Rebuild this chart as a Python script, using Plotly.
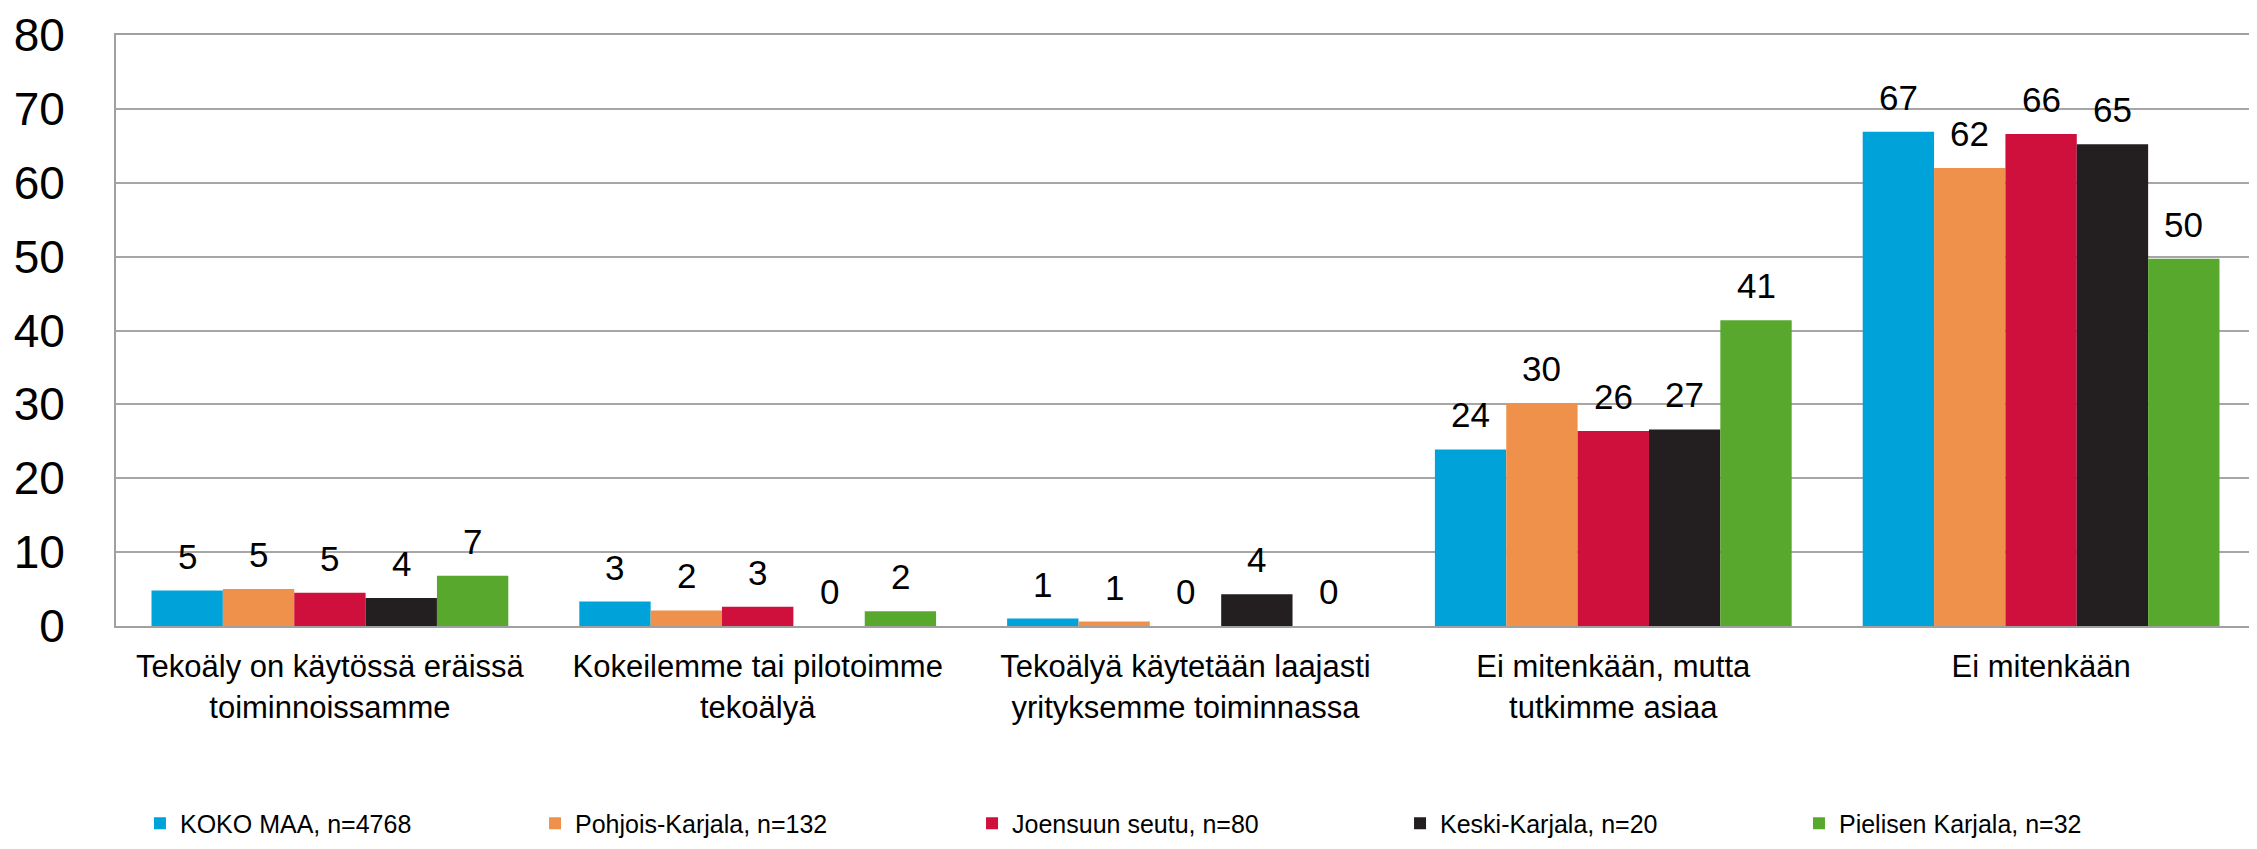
import plotly.graph_objects as go

categories = [
    "Tekoäly on käytössä eräissä<br>toiminnoissamme",
    "Kokeilemme tai pilotoimme<br>tekoälyä",
    "Tekoälyä käytetään laajasti<br>yrityksemme toiminnassa",
    "Ei mitenkään, mutta<br>tutkimme asiaa",
    "Ei mitenkään",
]
series_names = [
    "KOKO MAA, n=4768",
    "Pohjois-Karjala, n=132",
    "Joensuun seutu, n=80",
    "Keski-Karjala, n=20",
    "Pielisen Karjala, n=32",
]
koko_maa = [4.8, 3.3, 1.0, 23.9, 66.9]
pohjois_karjala = [5.0, 2.1, 0.6, 30.2, 62.0]
joensuun_seutu = [4.5, 2.6, 0.0, 26.4, 66.6]
keski_karjala = [3.8, 0.0, 4.3, 26.6, 65.2]
pielisen_karjala = [6.8, 2.0, 0.0, 41.4, 49.7]

koko_maa_labels = ["5", "3", "1", "24", "67"]
pohjois_karjala_labels = ["5", "2", "1", "30", "62"]
joensuun_seutu_labels = ["5", "3", "0", "26", "66"]
keski_karjala_labels = ["4", "0", "4", "27", "65"]
pielisen_karjala_labels = ["7", "2", "0", "41", "50"]

y_ticks = [0, 10, 20, 30, 40, 50, 60, 70, 80]

series_values = [koko_maa, pohjois_karjala, joensuun_seutu, keski_karjala, pielisen_karjala]
series_labels = [koko_maa_labels, pohjois_karjala_labels, joensuun_seutu_labels,
                 keski_karjala_labels, pielisen_karjala_labels]
colors = ["#00A3D9", "#F0914B", "#D0103C", "#231F20", "#58A82E"]

FONT = "Liberation Sans"
BARGAP = 0.166
n_series = len(series_names)
bar_w = (1 - BARGAP) / n_series

fig = go.Figure()
legend_ids = ["legend", "legend2", "legend3", "legend4", "legend5"]
for j, (name, vals, col) in enumerate(zip(series_names, series_values, colors)):
    fig.add_trace(go.Bar(
        x=categories, y=vals, name=name,
        marker=dict(color=col, line=dict(width=0)),
        legend=legend_ids[j],
        hoverinfo="skip",
    ))

annotations = []
for j, (vals, labs) in enumerate(zip(series_values, series_labels)):
    for i, (v, t) in enumerate(zip(vals, labs)):
        annotations.append(dict(
            x=i + (j - (n_series - 1) / 2) * bar_w, y=v, xref="x", yref="y",
            text=t, showarrow=False, yanchor="bottom", xanchor="center",
            yshift=13, font=dict(family=FONT, size=35, color="black"),
        ))

# legend placements (paper coords)
leg_x = [0.0112, 0.1959, 0.4002, 0.6003, 0.7868]
layout_legends = {}
for j, lid in enumerate(legend_ids):
    layout_legends[lid] = dict(
        x=leg_x[j], y=-0.334, xanchor="left", yanchor="middle",
        orientation="h", font=dict(family=FONT, size=25, color="black"),
        bgcolor="rgba(0,0,0,0)",
    )

fig.update_layout(
    width=2257, height=849,
    margin=dict(l=108, r=10, t=27, b=221),
    paper_bgcolor="white", plot_bgcolor="white",
    barmode="group", bargap=BARGAP, bargroupgap=0,
    font=dict(family=FONT, color="black"),
    annotations=annotations,
    showlegend=True,
    **layout_legends,
)
fig.update_xaxes(
    type="category", tickfont=dict(family=FONT, size=31, color="black"),
    showline=True, mirror=True, linecolor="#A0A0A0", linewidth=2,
    showgrid=False, ticks="", fixedrange=True, automargin=False,
    ticklabelstandoff=12,
)
fig.update_yaxes(
    range=[0, 80], tickvals=y_ticks, tickfont=dict(family=FONT, size=46, color="black"),
    showline=True, mirror=True, linecolor="#A0A0A0", linewidth=2,
    showgrid=True, gridcolor="#A6A6A6", gridwidth=2, zeroline=False,
    ticks="", ticklabelstandoff=40, fixedrange=True, automargin=False,
)

fig.write_html("out.html")
